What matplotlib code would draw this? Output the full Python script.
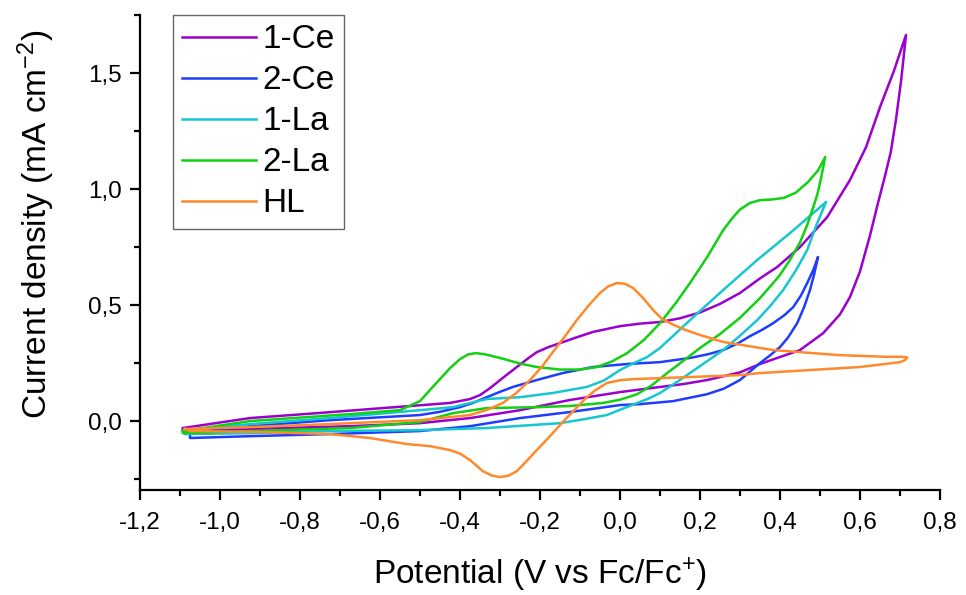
import matplotlib
matplotlib.use("Agg")
import matplotlib.pyplot as plt
from matplotlib.ticker import MultipleLocator, FuncFormatter

plt.rcParams['font.family'] = ['Liberation Sans', 'DejaVu Sans']
plt.rcParams['mathtext.fontset'] = 'custom'
plt.rcParams['mathtext.rm'] = 'Liberation Sans'
plt.rcParams['mathtext.it'] = 'Liberation Sans:italic'
plt.rcParams['mathtext.bf'] = 'Liberation Sans:bold'

# ---- data (potential V vs Fc/Fc+, current density mA cm^-2), closed CV loops ----
ce1_E = [-1.093, -0.925, -0.758, -0.593, -0.425, -0.375, -0.350, -0.325, -0.290, -0.258,
         -0.230, -0.208, -0.180, -0.150, -0.110, -0.068, -0.030, 0.000, 0.050, 0.100,
         0.150, 0.200, 0.250, 0.300, 0.350, 0.393, 0.450, 0.518, 0.575, 0.615, 0.650,
         0.685, 0.715,
         0.703, 0.690, 0.677, 0.663, 0.645, 0.625, 0.600, 0.575, 0.550, 0.508, 0.450,
         0.393, 0.350, 0.300, 0.218, 0.160, 0.100, 0.000, -0.125, -0.250, -0.375,
         -0.500, -0.675, -0.850, -1.050, -1.093]
ce1_j = [-0.030, 0.013, 0.034, 0.056, 0.078, 0.095, 0.112, 0.142, 0.190, 0.233,
         0.270, 0.297, 0.318, 0.336, 0.360, 0.384, 0.398, 0.409, 0.420, 0.427,
         0.443, 0.468, 0.505, 0.552, 0.615, 0.664, 0.750, 0.879, 1.039, 1.180, 1.353,
         1.510, 1.664,
         1.470, 1.300, 1.160, 1.060, 0.940, 0.800, 0.645, 0.535, 0.460, 0.379, 0.306,
         0.272, 0.246, 0.210, 0.177, 0.160, 0.147, 0.125, 0.091, 0.047, 0.013,
         -0.009, -0.022, -0.030, -0.043, -0.039]

ce2_E = [-1.075, -0.925, -0.725, -0.500, -0.450, -0.400, -0.365, -0.333, -0.300, -0.268,
         -0.208, -0.143, -0.068, 0.018, 0.100, 0.175, 0.220, 0.258, 0.295, 0.325,
         0.355, 0.383, 0.410, 0.433, 0.452, 0.468, 0.483, 0.495,
         0.485, 0.475, 0.460, 0.443, 0.420, 0.400, 0.375, 0.350, 0.300, 0.260, 0.218,
         0.133, 0.050, 0.000, -0.125, -0.250, -0.375, -0.500, -0.725, -0.925, -1.075,
         -1.075]
ce2_j = [-0.052, -0.022, 0.004, 0.026, 0.040, 0.060, 0.080, 0.103, 0.126, 0.147,
         0.177, 0.207, 0.233, 0.246, 0.254, 0.272, 0.288, 0.306, 0.335, 0.366,
         0.393, 0.422, 0.455, 0.491, 0.540, 0.595, 0.650, 0.707,
         0.630, 0.565, 0.490, 0.422, 0.360, 0.319, 0.283, 0.250, 0.177, 0.140, 0.116,
         0.086, 0.073, 0.069, 0.039, 0.013, -0.022, -0.043, -0.056, -0.065, -0.073,
         -0.052]

la1_E = [-1.088, -0.925, -0.725, -0.500, -0.418, -0.333, -0.250, -0.168, -0.083, -0.040,
         0.000, 0.035, 0.068, 0.100, 0.175, 0.258, 0.343, 0.425, 0.515,
         0.490, 0.468, 0.440, 0.408, 0.375, 0.343, 0.300, 0.258, 0.215, 0.175, 0.135,
         0.100, 0.070, 0.043, 0.005, -0.033, -0.090, -0.150, -0.333, -0.500,
         -0.725, -0.925, -1.088, -1.088]
la1_j = [-0.039, -0.013, 0.013, 0.047, 0.060, 0.095, 0.103, 0.121, 0.147, 0.175,
         0.220, 0.250, 0.276, 0.315, 0.435, 0.565, 0.694, 0.810, 0.944,
         0.840, 0.737, 0.650, 0.565, 0.495, 0.435, 0.368, 0.306, 0.255, 0.207, 0.160,
         0.121, 0.096, 0.078, 0.052, 0.026, 0.008, -0.009, -0.030, -0.039,
         -0.043, -0.052, -0.056, -0.039]

la2_E = [-1.093, -0.925, -0.675, -0.550, -0.500, -0.475, -0.450, -0.425, -0.400, -0.380,
         -0.360, -0.335, -0.300, -0.250, -0.208, -0.150, -0.100, -0.058, -0.020, 0.018,
         0.060, 0.100, 0.140, 0.175, 0.218, 0.258, 0.280, 0.300, 0.325, 0.350, 0.380,
         0.410, 0.440, 0.470, 0.495, 0.513,
         0.503, 0.493, 0.480, 0.468, 0.450, 0.425, 0.400, 0.383, 0.350, 0.300, 0.250,
         0.200, 0.160, 0.118, 0.080, 0.043, 0.000, -0.043, -0.125, -0.208, -0.333,
         -0.418, -0.500, -0.675, -0.925, -1.093, -1.093]
la2_j = [-0.043, 0.000, 0.030, 0.047, 0.086, 0.134, 0.181, 0.228, 0.267, 0.287,
         0.293, 0.287, 0.272, 0.248, 0.233, 0.222, 0.222, 0.233, 0.257, 0.293,
         0.350, 0.422, 0.510, 0.595, 0.707, 0.823, 0.873, 0.912, 0.940, 0.952, 0.955,
         0.962, 0.985, 1.030, 1.080, 1.138,
         1.050, 0.974, 0.905, 0.845, 0.770, 0.695, 0.630, 0.595, 0.530, 0.445, 0.375,
         0.315, 0.262, 0.207, 0.155, 0.116, 0.092, 0.078, 0.065, 0.060, 0.056,
         0.034, -0.004, -0.030, -0.043, -0.052, -0.043]

hl_E = [-1.088, -0.925, -0.725, -0.500, -0.375, -0.330, -0.293, -0.260, -0.225, -0.195,
        -0.168, -0.140, -0.108, -0.080, -0.050, -0.030, -0.008, 0.012, 0.033, 0.058,
        0.083, 0.105, 0.125, 0.160, 0.200, 0.258, 0.383, 0.550, 0.668, 0.705, 0.718,
        0.712, 0.700, 0.600, 0.350, 0.300, 0.100, 0.033, 0.000, -0.033, -0.060, -0.083,
        -0.110, -0.143, -0.175, -0.208, -0.235, -0.258, -0.280, -0.300, -0.320, -0.343,
        -0.360, -0.375, -0.400, -0.425, -0.475, -0.533, -0.625, -0.725, -0.900,
        -1.075, -1.088]
hl_j = [-0.034, -0.026, -0.013, 0.004, 0.026, 0.050, 0.078, 0.120, 0.177, 0.235,
        0.297, 0.360, 0.435, 0.495, 0.552, 0.580, 0.595, 0.592, 0.573, 0.530,
        0.478, 0.440, 0.422, 0.395, 0.371, 0.341, 0.306, 0.284, 0.277, 0.277, 0.274,
        0.262, 0.254, 0.233, 0.207, 0.198, 0.185, 0.181, 0.176, 0.164, 0.135, 0.103,
        0.055, -0.004, -0.065, -0.125, -0.175, -0.216, -0.236, -0.241, -0.235, -0.216,
        -0.190, -0.168, -0.140, -0.125, -0.108, -0.099, -0.073, -0.056, -0.047,
        -0.043, -0.034]

labels = ['1-Ce', '2-Ce', '1-La', '2-La', 'HL']
colors = ['#9B00CF', '#1F3DFF', '#16C6D0', '#12D012', '#FF8A2B']
series = [(ce1_E, ce1_j), (ce2_E, ce2_j), (la1_E, la1_j), (la2_E, la2_j), (hl_E, hl_j)]

fig = plt.figure(figsize=(9.66, 5.95), dpi=100)
ax = fig.add_axes([140/966, 1-490/595, 800/966, 475/595])

for (E, j), lab, col in zip(series, labels, colors):
    ax.plot(E, j, color=col, lw=1.8, label=lab, solid_joinstyle='round')

ax.set_xlim(-1.2, 0.8)
ax.set_ylim(-0.297, 1.75)

for s in ['top', 'right']:
    ax.spines[s].set_visible(False)
for s in ['left', 'bottom']:
    ax.spines[s].set_linewidth(1.6)

ax.xaxis.set_major_locator(MultipleLocator(0.2))
ax.xaxis.set_minor_locator(MultipleLocator(0.1))
ax.yaxis.set_major_locator(MultipleLocator(0.5))
ax.yaxis.set_minor_locator(MultipleLocator(0.25))
fmt = FuncFormatter(lambda v, p: ('%.1f' % v).replace('.', ',').replace('-0,0', '0,0'))
ax.xaxis.set_major_formatter(fmt)
ax.yaxis.set_major_formatter(fmt)
ax.tick_params(which='major', direction='out', length=7, width=1.6, labelsize=17.5, pad=6)
ax.tick_params(axis='x', which='major', pad=9)
ax.tick_params(which='minor', direction='out', length=4.5, width=1.6)

ax.set_xlabel('Potential (V vs Fc/Fc$^{+}$)', fontsize=24)
ax.set_ylabel('Current density (mA cm$^{-2}$)', fontsize=24)
ax.xaxis.set_label_coords(0.5, -0.138)
ax.yaxis.set_label_coords(-0.104, 0.56)

leg = ax.legend(loc='upper left', bbox_to_anchor=(33/800, 1.0), fontsize=24,
                frameon=True, fancybox=False, handlelength=2.2, handletextpad=0.2,
                labelspacing=0.30, borderpad=0.28, borderaxespad=0.0)
leg.get_frame().set_edgecolor('#404040')
leg.get_frame().set_linewidth(1.0)

fig.savefig('out.png', dpi=100)
